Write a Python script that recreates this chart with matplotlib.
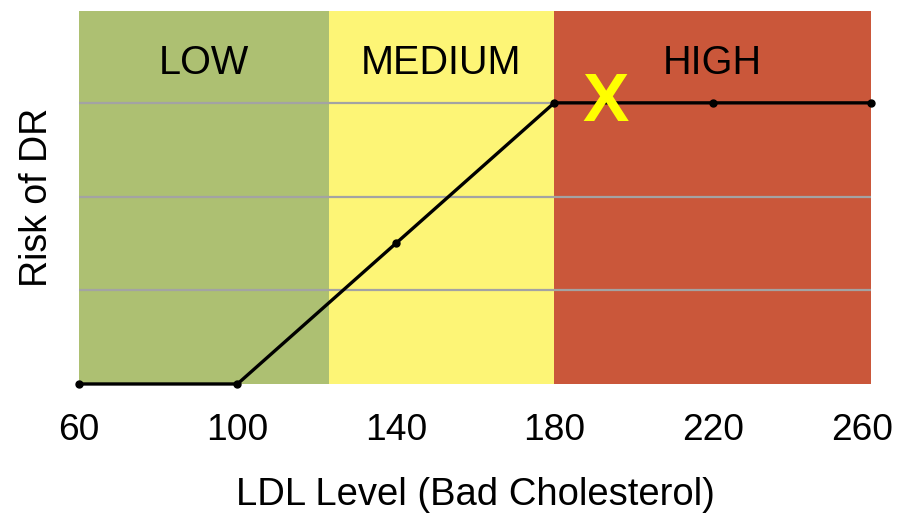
import matplotlib.pyplot as plt
import matplotlib.transforms as mtransforms

plt.rcParams['font.family'] = ['Liberation Sans', 'DejaVu Sans']

# LDL level vs risk curve
ldl = [60, 100, 140, 180, 220, 260]
risk = [0, 0, 1.5, 3, 3, 3]

# risk zones
zone_names = ['LOW', 'MEDIUM', 'HIGH']
zone_edges = [60, 123, 180, 260]
zone_colors = ['#adc072', '#fdf576', '#ca573a']

marker_x = 193
marker_y = 3

xticks = [60, 100, 140, 180, 220, 260]

fig = plt.figure(figsize=(8.99, 5.13), dpi=100)
ax = fig.add_axes([0.0879, 0.2515, 0.881, 0.727])

for i, name in enumerate(zone_names):
    ax.axvspan(zone_edges[i], zone_edges[i + 1], color=zone_colors[i], zorder=0, lw=0)
    ax.text((zone_edges[i] + zone_edges[i + 1]) / 2, 3.43, name,
            ha='center', va='center', fontsize=28.5)

for g in [1, 2, 3]:
    ax.axhline(g, color='#a3a3a3', lw=1.6, zorder=1)

ax.plot(ldl, risk, color='black', lw=2.4, marker='o', markersize=5,
        zorder=3, clip_on=False)

ax.text(marker_x, marker_y, 'X', color='#ffff00', fontsize=50,
        fontweight='bold', ha='center', va='center', zorder=4)

ax.set_xlim(60, 260)
ax.set_ylim(0, 3.98)
ax.set_xticks(xticks)
ax.set_xticklabels([str(t) for t in xticks], fontsize=26.7)
ax.set_yticks([])
ax.tick_params(axis='x', length=0, pad=21)
for s in ax.spines.values():
    s.set_visible(False)

# pull the last tick label in so it stays inside the figure
last = ax.get_xticklabels()[-1]
last.set_transform(last.get_transform() +
                   mtransforms.ScaledTranslation(-9 / 100, 0, fig.dpi_scale_trans))

ax.set_xlabel('LDL Level (Bad Cholesterol)', fontsize=27.5, labelpad=21)
ax.set_ylabel('Risk of DR', fontsize=27, labelpad=17)

fig.savefig('out.png', dpi=100)
